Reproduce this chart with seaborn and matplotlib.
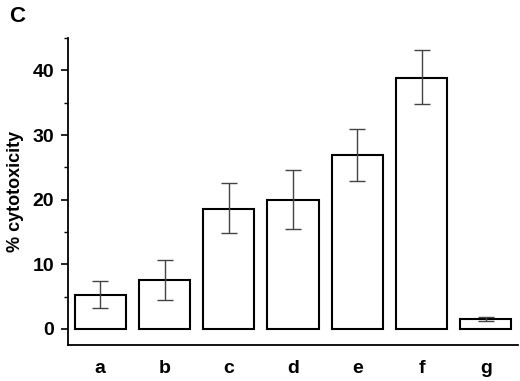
import matplotlib
matplotlib.use("Agg")
import matplotlib.pyplot as plt
import seaborn as sns
import numpy as np
import pandas as pd

categories = ["a", "b", "c", "d", "e", "f", "g"]
values = [5.2, 7.5, 18.5, 20.0, 26.9, 38.9, 1.5]
err_upper = [7.4, 10.6, 22.5, 24.6, 30.9, 43.1, 1.8]
err_lower = [3.2, 4.5, 14.8, 15.5, 22.9, 34.8, 1.2]
yticks = [0, 10, 20, 30, 40]

sns.set_theme(style="white")
plt.rcParams['font.family'] = ['Liberation Sans', 'DejaVu Sans']
plt.rcParams['text.color'] = 'black'
plt.rcParams['axes.labelcolor'] = 'black'
plt.rcParams['xtick.color'] = 'black'
plt.rcParams['ytick.color'] = 'black'

df = pd.DataFrame({"cat": categories, "val": values})

fig = plt.figure(figsize=(5.2, 3.81), dpi=100)
ax = fig.add_axes([0.131, 0.0945, 0.865, 0.8055])

sns.barplot(data=df, x="cat", y="val", order=categories, color="white",
            edgecolor="black", linewidth=1.5, width=0.8, errorbar=None, ax=ax)

x = np.arange(len(categories))
yerr = [np.array(values) - np.array(err_lower), np.array(err_upper) - np.array(values)]
ax.errorbar(x, values, yerr=yerr, fmt="none", ecolor="#444444", elinewidth=1.0,
            capsize=6, capthick=1.0)

ax.set_xlim(-0.5, 6.5)
ax.set_ylim(-2.5, 45)
ax.set_yticks(yticks)
ax.set_yticks([5, 15, 25, 35, 45], minor=True)
ax.set_xticks(x)
ax.set_xticklabels(categories, fontsize=14, fontweight="bold", color="black")
ax.set_xticks(np.arange(-0.5, 7.0, 1.0), minor=True)
for lab in ax.get_yticklabels():
    lab.set_fontsize(14)
    lab.set_fontweight("bold")
    lab.set_color("black")
ax.tick_params(axis="x", which="major", length=0, pad=11)
ax.tick_params(axis="x", which="minor", length=6, width=1.2, direction="inout", color="black")
ax.tick_params(axis="y", which="major", length=5, width=1.2, direction="out", color="black", pad=5, left=True)
ax.tick_params(axis="y", which="minor", length=3, width=1.0, direction="out", color="black", left=True)

for s in ["top", "right"]:
    ax.spines[s].set_visible(False)
for s in ["left", "bottom"]:
    ax.spines[s].set_color("black")
    ax.spines[s].set_linewidth(1.3)

ax.set_xlabel("")
ax.set_ylabel("% cytotoxicity", fontsize=13, fontweight="bold", labelpad=6, color="black")
fig.text(0.017, 0.985, "C", fontsize=16, fontweight="bold", va="top", ha="left", color="black")

fig.savefig("out.png", dpi=100)
